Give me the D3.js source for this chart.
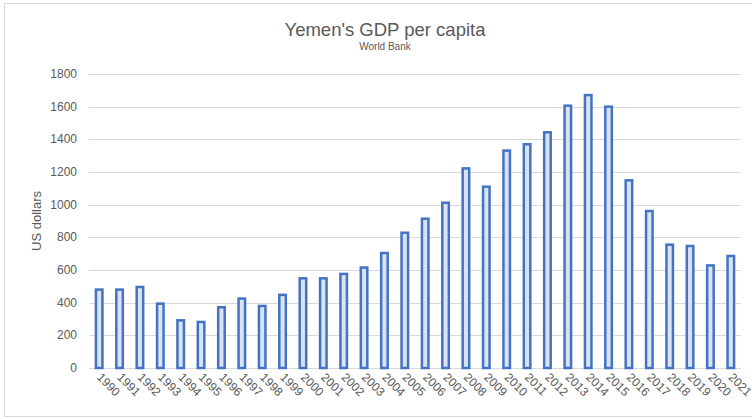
<!DOCTYPE html>
<head>
  <meta charset="utf-8">
  <script src="https://unpkg.com/d3@7/dist/d3.min.js"></script>
  <style>
    body { margin: 0; background: #fff; }
    text { font-family: "Liberation Sans", Arial, sans-serif; fill: #595959; }
  </style>
</head>
<body>
  <svg width="752" height="419"></svg>
  <script>
    var years = ["1990","1991","1992","1993","1994","1995","1996","1997","1998","1999",
                 "2000","2001","2002","2003","2004","2005","2006","2007","2008","2009",
                 "2010","2011","2012","2013","2014","2015","2016","2017","2018","2019",
                 "2020","2021"];
    var gdp = [480, 480, 496, 394, 292, 282, 372, 425, 380, 448,
               549, 549, 576, 615, 704, 828, 914, 1012, 1222, 1110,
               1331, 1370, 1443, 1606, 1671, 1600, 1149, 961, 755, 747,
               628, 686];
    var yTicks = [0, 200, 400, 600, 800, 1000, 1200, 1400, 1600, 1800];

    var svg = d3.select("svg");

    // chart area border
    svg.append("rect")
      .attr("x", 4.5).attr("y", 3.5)
      .attr("width", 760).attr("height", 413)
      .attr("fill", "none")
      .attr("stroke", "#d9d9d9");

    var x = d3.scaleBand().domain(years).range([89, 741]).paddingInner(0.68).paddingOuter(0.34);
    var y = d3.scaleLinear().domain([0, 1800]).range([368, 74]);

    // gridlines
    svg.append("g")
      .selectAll("line")
      .data(yTicks)
      .enter().append("line")
        .attr("x1", 89).attr("x2", 741)
        .attr("y1", function (d) { return Math.round(y(d)) + 0.5; })
        .attr("y2", function (d) { return Math.round(y(d)) + 0.5; })
        .attr("stroke", "#d9d9d9")
        .attr("stroke-width", 1);

    // y tick labels
    svg.append("g")
      .selectAll("text")
      .data(yTicks)
      .enter().append("text")
        .attr("x", 77)
        .attr("y", function (d) { return y(d) + 4; })
        .attr("text-anchor", "end")
        .attr("font-size", 12)
        .text(function (d) { return d; });

    // bars
    svg.append("g")
      .selectAll("rect")
      .data(gdp)
      .enter().append("rect")
        .attr("x", function (d, i) { return x(years[i]); })
        .attr("y", function (d) { return y(d); })
        .attr("width", x.bandwidth())
        .attr("height", function (d) { return y(0) - y(d); })
        .attr("fill", "#dae3f3")
        .attr("stroke", "#4472c4")
        .attr("stroke-width", 2.5);

    // x labels
    svg.append("g")
      .selectAll("text")
      .data(years)
      .enter().append("text")
        .attr("transform", function (d) {
          return "translate(" + (x(d) + x.bandwidth() / 2 - 3) + ",378) rotate(45)";
        })
        .attr("font-size", 12)
        .attr("text-anchor", "start")
        .text(function (d) { return d; });

    // titles
    svg.append("text")
      .attr("x", 385).attr("y", 36)
      .attr("text-anchor", "middle")
      .attr("font-size", 18.5)
      .text("Yemen's GDP per capita");
    svg.append("text")
      .attr("x", 385).attr("y", 50)
      .attr("text-anchor", "middle")
      .attr("font-size", 10)
      .text("World Bank");

    // y axis title
    svg.append("text")
      .attr("transform", "translate(41,221) rotate(-90)")
      .attr("text-anchor", "middle")
      .attr("font-size", 13)
      .text("US dollars");
  </script>
</body>
